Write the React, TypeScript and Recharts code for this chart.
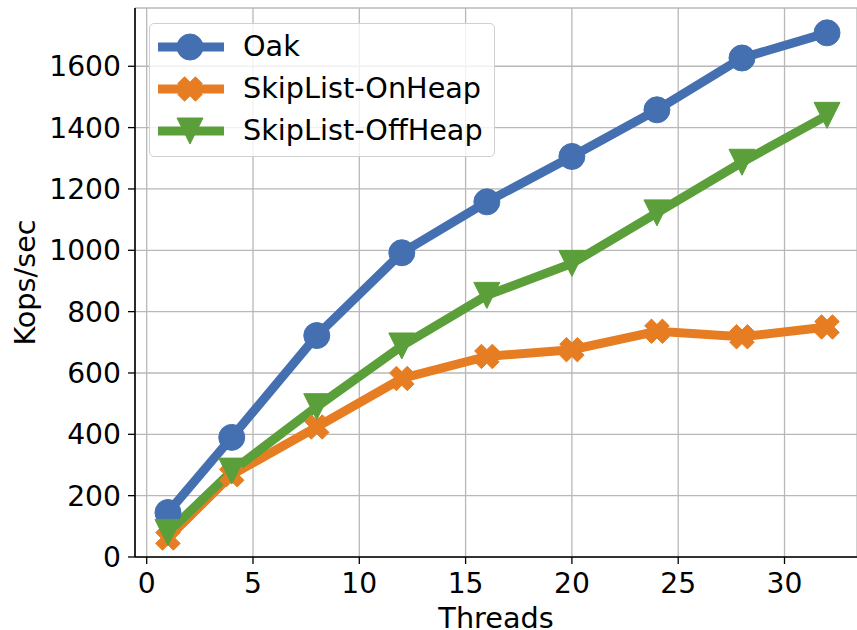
import React from "react";
import { LineChart, Line, XAxis, YAxis, CartesianGrid, Legend } from "recharts";

const threads = [1, 4, 8, 12, 16, 20, 24, 28, 32];
const oak = [145, 390, 722, 992, 1158, 1306, 1458, 1627, 1709];
const onHeap = [62, 268, 424, 582, 654, 676, 736, 718, 750];
const offHeap = [80, 280, 490, 688, 853, 957, 1122, 1287, 1440];
const seriesNames = ["Oak", "SkipList-OnHeap", "SkipList-OffHeap"];
const xTicks = [0, 5, 10, 15, 20, 25, 30];
const yTicks = [0, 200, 400, 600, 800, 1000, 1200, 1400, 1600];

const COLORS = ["#4470b1", "#e67d22", "#5b9f3a"];
const FONT = "'DejaVu Sans', sans-serif";

const data = threads.map((t, i) => ({ t, oak: oak[i], onHeap: onHeap[i], offHeap: offHeap[i] }));

const xPoints = (cx: number, cy: number, L: number, w: number) => {
  const base = [
    [-w, -L], [w, -L], [w, -w], [L, -w], [L, w], [w, w],
    [w, L], [-w, L], [-w, w], [-L, w], [-L, -w], [-w, -w],
  ];
  const c = Math.SQRT1_2;
  return base
    .map(([x, y]) => `${cx + (x - y) * c},${cy + (x + y) * c}`)
    .join(" ");
};

const triPoints = (cx: number, cy: number, h: number) =>
  `${cx - h},${cy - h} ${cx + h},${cy - h} ${cx},${cy + h}`;

const Marker = ({ kind, cx, cy, color }: { kind: number; cx: number; cy: number; color: string }) => {
  if (kind === 0) return <circle cx={cx} cy={cy} r={13} fill={color} stroke={color} strokeWidth={1} />;
  if (kind === 1) return <polygon points={xPoints(cx, cy, 12.5, 4.8)} fill={color} stroke={color} strokeWidth={1} />;
  return <polygon points={triPoints(cx, cy, 13)} fill={color} stroke={color} strokeWidth={1} />;
};

const makeDot = (kind: number) => (props: any) => {
  const { cx, cy, index } = props;
  if (cx == null || cy == null) return <g key={index} />;
  return <Marker key={index} kind={kind} cx={cx} cy={cy} color={COLORS[kind]} />;
};

const LegendBox = () => (
  <div
    style={{
      position: "absolute",
      left: 149,
      top: 23,
      width: 346,
      height: 134,
      border: "1px solid #d0d0d0",
      borderRadius: 5,
      background: "rgba(255,255,255,0.8)",
      boxSizing: "border-box",
      fontFamily: FONT,
      fontSize: 28.7,
      color: "#000",
    }}
  >
    {seriesNames.map((name, i) => (
      <div key={name} style={{ position: "absolute", left: 0, top: i * 42, height: 46, width: 340 }}>
        <svg width={80} height={46} style={{ position: "absolute", left: 6, top: 0 }}>
          <line x1={2} y1={23} x2={68} y2={23} stroke={COLORS[i]} strokeWidth={9} />
          <Marker kind={i} cx={34} cy={23} color={COLORS[i]} />
        </svg>
        <span style={{ position: "absolute", left: 93, top: 4, lineHeight: "36px", whiteSpace: "nowrap" }}>{name}</span>
      </div>
    ))}
  </div>
);

export default function App() {
  return (
    <div style={{ position: "fixed", left: 0, top: 0, width: 857, height: 630, background: "#fff" }}>
      <LineChart
        width={857}
        height={630}
        data={data}
        margin={{ top: 8, right: 0, bottom: 0, left: 0 }}
        style={{ fontFamily: FONT }}
      >
        <CartesianGrid stroke="#b8b8b8" strokeWidth={1.3} />
        <XAxis
          dataKey="t"
          type="number"
          domain={[-0.55, 33.41]}
          ticks={xTicks}
          allowDataOverflow
          height={73}
          tick={{ fill: "#000", fontSize: 28.2, fontFamily: FONT, dy: 7 }}
          tickLine={{ stroke: "#000", strokeWidth: 1.3 }}
          tickSize={7}
          axisLine={{ stroke: "#000", strokeWidth: 1.6 }}
          label={{ value: "Threads", position: "insideBottom", offset: 2, fill: "#000", fontSize: 28.7, fontFamily: FONT, dx: 0 }}
        />
        <XAxis
          xAxisId="top"
          orientation="top"
          dataKey="t"
          type="number"
          domain={[-0.55, 33.41]}
          height={0}
          tick={false}
          tickLine={false}
          axisLine={{ stroke: "#000", strokeWidth: 1.6 }}
        />
        <YAxis
          type="number"
          domain={[0, 1790]}
          ticks={yTicks}
          allowDataOverflow
          width={135}
          tick={{ fill: "#000", fontSize: 28.2, fontFamily: FONT, dx: -5 }}
          tickLine={{ stroke: "#000", strokeWidth: 1.3 }}
          tickSize={7}
          axisLine={{ stroke: "#000", strokeWidth: 1.6 }}
          label={{ value: "Kops/sec", angle: -90, position: "insideLeft", offset: 25, fill: "#000", fontSize: 28.7, fontFamily: FONT, style: { textAnchor: "middle" } }}
        />
        <Legend content={<LegendBox />} wrapperStyle={{ position: "absolute", left: 0, top: 0, width: 0, height: 0 }} />
        <Line dataKey="oak" name={seriesNames[0]} stroke={COLORS[0]} strokeWidth={9} dot={makeDot(0)} activeDot={false} isAnimationActive={false} />
        <Line dataKey="onHeap" name={seriesNames[1]} stroke={COLORS[1]} strokeWidth={9} dot={makeDot(1)} activeDot={false} isAnimationActive={false} />
        <Line dataKey="offHeap" name={seriesNames[2]} stroke={COLORS[2]} strokeWidth={9} dot={makeDot(2)} activeDot={false} isAnimationActive={false} />
      </LineChart>
    </div>
  );
}
